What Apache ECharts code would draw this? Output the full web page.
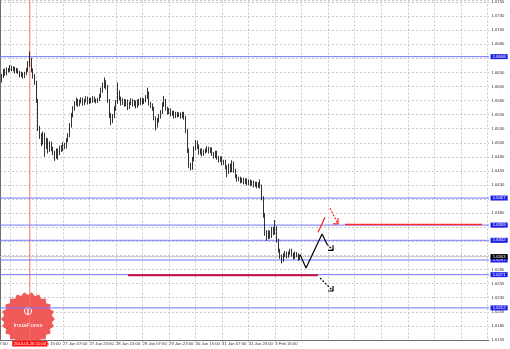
<!DOCTYPE html>
<html><head><meta charset="utf-8">
<script src="https://cdn.jsdelivr.net/npm/echarts@6/dist/echarts.min.js"></script>
<style>html,body{margin:0;padding:0;background:#fff}#c{width:510px;height:349px}</style>
</head><body><div id="c"></div><script>
// ---- data (GBP/USD H1) ----
const opens = [1.6609,1.6616,1.6623,1.6632,1.6628,1.6635,1.6634,1.6639,1.6635,1.6637,
1.6632,1.6635,1.6630,1.6625,1.6628,1.6623,1.6628,1.6634,1.6644,1.6651,
1.6634,1.6623,1.6612,1.6580,1.6531,1.6518,1.6506,1.6520,1.6499,1.6510,
1.6492,1.6504,1.6495,1.6488,1.6481,1.6492,1.6486,1.6497,1.6494,1.6502,
1.6499,1.6510,1.6518,1.6536,1.6554,1.6566,1.6575,1.6580,1.6573,1.6579,
1.6582,1.6575,1.6580,1.6584,1.6577,1.6582,1.6579,1.6584,1.6580,1.6579,
1.6582,1.6588,1.6598,1.6607,1.6612,1.6605,1.6580,1.6554,1.6545,1.6552,
1.6566,1.6577,1.6595,1.6584,1.6575,1.6580,1.6573,1.6579,1.6568,1.6575,
1.6580,1.6573,1.6577,1.6570,1.6579,1.6575,1.6582,1.6577,1.6580,1.6586,
1.6593,1.6575,1.6572,1.6566,1.6549,1.6536,1.6545,1.6552,1.6559,1.6573,
1.6580,1.6566,1.6559,1.6563,1.6556,1.6559,1.6552,1.6557,1.6554,1.6556,
1.6552,1.6557,1.6550,1.6527,1.6492,1.6465,1.6460,1.6476,1.6495,1.6506,
1.6499,1.6488,1.6492,1.6485,1.6490,1.6492,1.6495,1.6490,1.6494,1.6486,
1.6481,1.6488,1.6479,1.6474,1.6478,1.6469,1.6472,1.6462,1.6453,1.6465,
1.6456,1.6469,1.6456,1.6446,1.6440,1.6442,1.6437,1.6440,1.6435,1.6439,
1.6433,1.6437,1.6432,1.6435,1.6430,1.6433,1.6428,1.6432,1.6428,1.6407,
1.6377,1.6346,1.6338,1.6346,1.6339,1.6352,1.6345,1.6354,1.6332,1.6314,
1.6304,1.6297,1.6306,1.6309,1.6304,1.6309,1.6314,1.6307,1.6302,1.6309,
1.6306,1.6300];
const closes = [1.6616,1.6623,1.6632,1.6628,1.6635,1.6634,1.6639,1.6635,1.6637,1.6632,
1.6635,1.6630,1.6625,1.6628,1.6623,1.6628,1.6634,1.6644,1.6651,1.6634,
1.6623,1.6612,1.6580,1.6531,1.6518,1.6506,1.6520,1.6499,1.6510,1.6492,
1.6504,1.6495,1.6488,1.6481,1.6492,1.6486,1.6497,1.6494,1.6502,1.6499,
1.6510,1.6518,1.6536,1.6554,1.6566,1.6575,1.6580,1.6573,1.6579,1.6582,
1.6575,1.6580,1.6584,1.6577,1.6582,1.6579,1.6584,1.6580,1.6579,1.6582,
1.6588,1.6598,1.6607,1.6612,1.6605,1.6580,1.6554,1.6545,1.6552,1.6566,
1.6577,1.6595,1.6584,1.6575,1.6580,1.6573,1.6579,1.6568,1.6575,1.6580,
1.6573,1.6577,1.6570,1.6579,1.6575,1.6582,1.6577,1.6580,1.6586,1.6593,
1.6575,1.6572,1.6566,1.6549,1.6536,1.6545,1.6552,1.6559,1.6573,1.6580,
1.6566,1.6559,1.6563,1.6556,1.6559,1.6552,1.6557,1.6554,1.6556,1.6552,
1.6557,1.6550,1.6527,1.6492,1.6465,1.6460,1.6476,1.6495,1.6506,1.6499,
1.6488,1.6492,1.6485,1.6490,1.6492,1.6495,1.6490,1.6494,1.6486,1.6481,
1.6488,1.6479,1.6474,1.6478,1.6469,1.6472,1.6462,1.6453,1.6465,1.6456,
1.6469,1.6456,1.6446,1.6440,1.6442,1.6437,1.6440,1.6435,1.6439,1.6433,
1.6437,1.6432,1.6435,1.6430,1.6433,1.6428,1.6432,1.6428,1.6407,1.6377,
1.6346,1.6338,1.6346,1.6339,1.6352,1.6345,1.6354,1.6332,1.6314,1.6304,
1.6297,1.6306,1.6309,1.6304,1.6309,1.6314,1.6307,1.6302,1.6309,1.6306,
1.6300,1.6303];
const lows = [1.6603,1.6612,1.6620,1.6624,1.6625,1.6630,1.6631,1.6632,1.6632,1.6628,
1.6629,1.6627,1.6621,1.6622,1.6619,1.6620,1.6625,1.6631,1.6640,1.6630,
1.6619,1.6608,1.6576,1.6526,1.6512,1.6499,1.6502,1.6480,1.6494,1.6486,
1.6489,1.6490,1.6483,1.6473,1.6477,1.6475,1.6483,1.6489,1.6490,1.6494,
1.6495,1.6506,1.6515,1.6532,1.6550,1.6562,1.6571,1.6569,1.6570,1.6575,
1.6571,1.6572,1.6577,1.6573,1.6574,1.6575,1.6576,1.6577,1.6575,1.6576,
1.6579,1.6585,1.6594,1.6602,1.6600,1.6576,1.6549,1.6536,1.6540,1.6549,
1.6562,1.6574,1.6580,1.6571,1.6572,1.6569,1.6570,1.6563,1.6565,1.6572,
1.6569,1.6570,1.6566,1.6567,1.6571,1.6572,1.6573,1.6574,1.6577,1.6583,
1.6571,1.6567,1.6562,1.6545,1.6527,1.6532,1.6541,1.6548,1.6556,1.6569,
1.6562,1.6555,1.6556,1.6552,1.6553,1.6548,1.6549,1.6550,1.6551,1.6548,
1.6549,1.6546,1.6522,1.6487,1.6460,1.6456,1.6457,1.6472,1.6491,1.6494,
1.6484,1.6484,1.6481,1.6482,1.6486,1.6488,1.6486,1.6487,1.6482,1.6477,
1.6478,1.6475,1.6470,1.6471,1.6465,1.6466,1.6458,1.6444,1.6450,1.6452,
1.6453,1.6452,1.6442,1.6436,1.6437,1.6433,1.6434,1.6431,1.6432,1.6429,
1.6430,1.6428,1.6429,1.6426,1.6427,1.6424,1.6425,1.6424,1.6403,1.6372,
1.6340,1.6331,1.6334,1.6335,1.6336,1.6341,1.6342,1.6328,1.6310,1.6299,
1.6291,1.6294,1.6302,1.6300,1.6301,1.6306,1.6303,1.6298,1.6299,1.6302,
1.6296,1.6297];
const highs = [1.6620,1.6627,1.6636,1.6637,1.6639,1.6638,1.6643,1.6642,1.6641,1.6640,
1.6638,1.6637,1.6633,1.6631,1.6630,1.6631,1.6638,1.6650,1.6667,1.6656,
1.6637,1.6627,1.6615,1.6583,1.6535,1.6522,1.6525,1.6523,1.6514,1.6513,
1.6508,1.6507,1.6498,1.6491,1.6495,1.6495,1.6500,1.6501,1.6506,1.6505,
1.6513,1.6522,1.6540,1.6558,1.6570,1.6579,1.6585,1.6583,1.6582,1.6586,
1.6585,1.6583,1.6588,1.6587,1.6585,1.6585,1.6588,1.6587,1.6583,1.6585,
1.6592,1.6603,1.6612,1.6621,1.6616,1.6608,1.6583,1.6558,1.6556,1.6570,
1.6581,1.6612,1.6598,1.6587,1.6584,1.6583,1.6582,1.6582,1.6578,1.6584,
1.6583,1.6581,1.6580,1.6582,1.6583,1.6585,1.6585,1.6584,1.6590,1.6603,
1.6596,1.6578,1.6575,1.6569,1.6552,1.6549,1.6556,1.6563,1.6577,1.6588,
1.6583,1.6569,1.6567,1.6566,1.6562,1.6562,1.6560,1.6560,1.6559,1.6559,
1.6560,1.6560,1.6553,1.6530,1.6495,1.6470,1.6480,1.6499,1.6510,1.6509,
1.6502,1.6495,1.6495,1.6493,1.6495,1.6499,1.6498,1.6497,1.6497,1.6489,
1.6491,1.6491,1.6482,1.6481,1.6481,1.6475,1.6475,1.6465,1.6468,1.6468,
1.6474,1.6472,1.6459,1.6449,1.6445,1.6445,1.6443,1.6443,1.6442,1.6442,
1.6440,1.6440,1.6438,1.6438,1.6436,1.6436,1.6435,1.6440,1.6431,1.6410,
1.6380,1.6350,1.6350,1.6349,1.6356,1.6356,1.6368,1.6357,1.6335,1.6317,
1.6307,1.6309,1.6313,1.6312,1.6312,1.6317,1.6317,1.6310,1.6312,1.6311,
1.6309,1.6306];

const barSlots = 296;               // bars + empty future area
const tickLabels = ['26 Jan 15:00','27 Jan 07:00','27 Jan 23:00','28 Jan 15:00','29 Jan 07:00',
                    '29 Jan 23:00','30 Jan 15:00','31 Jan 07:00','31 Jan 23:00','3 Feb 15:00'];
const tickIndex  = [22,38,54,70,86,102,118,134,150,166];
const firstPartialLabel = {index:-10, text:'25 Jan 07:00'};
const levels = [1.6658,1.6407,1.6359,1.6332,1.6297,1.6271,1.6212];
const lastPrice = 1.6303;
const vLineIndex = 18, vLineText = '2014.01.26 11:00';
// drawn annotations: [bar index, price]
const zigzag = [[181.0,1.6307],[184.6,1.6283],[194.3,1.6343],[197.3,1.6325]];
const zigDash = [[197.3,1.6325],[200.9,1.6314]];
const zigHead = [[197.9,1.6314],[200.9,1.6314],[200.9,1.6323]];
const lowDash = [[193.1,1.6265],[200.9,1.6242]];
const lowHead = [[197.9,1.6242],[200.9,1.6242],[200.9,1.6251]];
const redSolid = [[191.8,1.6346],[196.1,1.6373]];
const redDash = [[199.1,1.6389],[203.9,1.6361]];
const redHead = [[200.9,1.6361],[203.9,1.6361],[203.9,1.6371]];
const redLevel = [[208.1,1.6360],[290.8,1.6360]];
const crimsonLevel = [[77.2,1.6270],[191.8,1.6270]];

// ---- build ----
const Y_MIN = 1.6155, Y_MAX = 1.67577;
const categories = Array.from({length: barSlots}, (_, i) => 'b' + i);
const labelAt = {};
tickIndex.forEach((ix, k) => labelAt[ix] = tickLabels[k]);
const candleData = opens.map((o, i) => [o, closes[i], lows[i], highs[i]]);
const FONT = 'Liberation Sans';
const LBL = {fontSize: 4.2, fontFamily: FONT, color: '#fff', padding: [0.7, 2.2, 0.3, 2.2]};

const chart = echarts.init(document.getElementById('c'), null, {renderer: 'canvas'});

function seg(data, color, width, type, z) {
  return {type: 'line', xAxisIndex: 1, yAxisIndex: 0, data: data, symbol: 'none',
          silent: true, animation: false, z: z || 5, clip: false,
          lineStyle: {color: color, width: width, type: type}};
}
function level(v, lineColor, boxColor, z) {
  const s = seg([[0, v], [barSlots - 1, v]], lineColor, 1, 'solid', z);
  s.endLabel = Object.assign({show: true, distance: 1.5, formatter: v.toFixed(4),
                              backgroundColor: boxColor}, LBL);
  return s;
}

const series = [{
  type: 'candlestick', data: candleData, barWidth: 1.2, z: 3,
  itemStyle: {color: '#ffffff', color0: '#000000', borderColor: '#000000', borderColor0: '#000000', borderWidth: 0.8}
}];
series.push(seg([[vLineIndex, Y_MAX], [vLineIndex, Y_MIN]], '#ff6a6a', 1, 'solid', 2));
levels.forEach(v => series.push(level(v, '#7474ff', '#2020e8', 2)));
series.push(level(lastPrice, '#c4c4c4', '#000000', 2));
series.push(
  seg(crimsonLevel, '#c8103c', 2, 'solid'),
  seg(redLevel, '#ff2a2a', 1.5, 'solid'),
  seg(zigzag, '#000', 1.2, 'solid'),
  seg(zigDash, '#000', 1.2, [2, 1.5]),
  seg(zigHead, '#000', 1.2, 'solid'),
  seg(lowDash, '#000', 1.2, [2, 1.5]),
  seg(lowHead, '#000', 1.2, 'solid'),
  seg(redSolid, '#ff2020', 1.2, 'solid'),
  seg(redDash, '#ff2020', 1.2, [2, 1.5]),
  seg(redHead, '#ff2020', 1.2, 'solid')
);

chart.setOption({
  animation: false,
  backgroundColor: '#ffffff',
  grid: {left: 0, right: 21, top: 0, bottom: 9, containLabel: false},
  xAxis: [{
    type: 'category', data: categories, boundaryGap: false,
    axisLine: {show: true, lineStyle: {color: '#707070', width: 1}},
    axisTick: {show: true, length: 1.5, interval: (i) => i in labelAt, lineStyle: {color: '#707070'}},
    axisLabel: {show: true, interval: (i) => i in labelAt, formatter: (v, i) => labelAt[i] || '',
                align: 'left', margin: 2, fontSize: 4.2, fontFamily: FONT, color: '#333'},
    splitLine: {show: true, interval: (i) => i >= 6 && (i - 6) % 16 === 0,
                lineStyle: {color: '#c8c8c8', width: 1, type: [2, 2]}}
  }, {
    type: 'value', min: 0, max: barSlots - 1, show: false
  }],
  yAxis: {
    type: 'value', position: 'right', min: Y_MIN, max: Y_MAX, interval: 0.0025, scale: true,
    axisLine: {show: true, lineStyle: {color: '#707070', width: 1}},
    axisTick: {show: false},
    axisLabel: {formatter: (v) => v.toFixed(4), showMaxLabel: false, margin: 2.5,
                fontSize: 4.2, fontFamily: FONT, color: '#333'},
    splitLine: {show: true, lineStyle: {color: '#c8c8c8', width: 1, type: [2, 2]}}
  },
  series: series
});

// partial first time label, vertical-line time box, logo
const px = chart.convertToPixel({xAxisIndex: 1, yAxisIndex: 0}, [firstPartialLabel.index, Y_MIN]);
const pv = chart.convertToPixel({xAxisIndex: 1, yAxisIndex: 0}, [vLineIndex, Y_MIN]);
const star = [];
const cx = 28, cy = 319, rOut = 27, rIn = 24, n = 22;
for (let k = 0; k < n * 2; k++) {
  const r = k % 2 ? rIn : rOut, a = Math.PI * k / n;
  star.push([cx + r * Math.cos(a), cy + r * Math.sin(a)]);
}
chart.setOption({graphic: [
  {type: 'text', left: px[0], top: px[1] + 2, silent: true,
   style: {text: firstPartialLabel.text, fontSize: 4.2, fontFamily: FONT, fill: '#333'}},
  {type: 'polygon', shape: {points: star}, z: 1, silent: true, style: {fill: '#ee4442', opacity: 0.88}},
  {type: 'circle', shape: {cx: cx, cy: 311, r: 3.6}, z: 2, silent: true, style: {fill: 'none', stroke: '#fff', lineWidth: 1}},
  {type: 'circle', shape: {cx: cx, cy: 309.8, r: 1}, z: 2, silent: true, style: {fill: '#fff'}},
  {type: 'rect', shape: {x: cx - 0.6, y: 311, width: 1.2, height: 3}, z: 2, silent: true, style: {fill: '#fff'}},
  {type: 'text', x: cx, y: 325, z: 2, silent: true,
   style: {text: 'InstaForex', fontSize: 6.2, fontFamily: FONT, fill: '#fff', align: 'center', verticalAlign: 'middle'}},
  {type: 'text', x: pv[0], y: pv[1] + 1, z: 10, silent: true,
   style: {text: vLineText, fontSize: 4.2, fontFamily: FONT, fill: '#fff', align: 'center', verticalAlign: 'top',
           backgroundColor: '#ff1010', padding: [1, 1.5, 0.6, 1.5]}}
]});
</script></body></html>
